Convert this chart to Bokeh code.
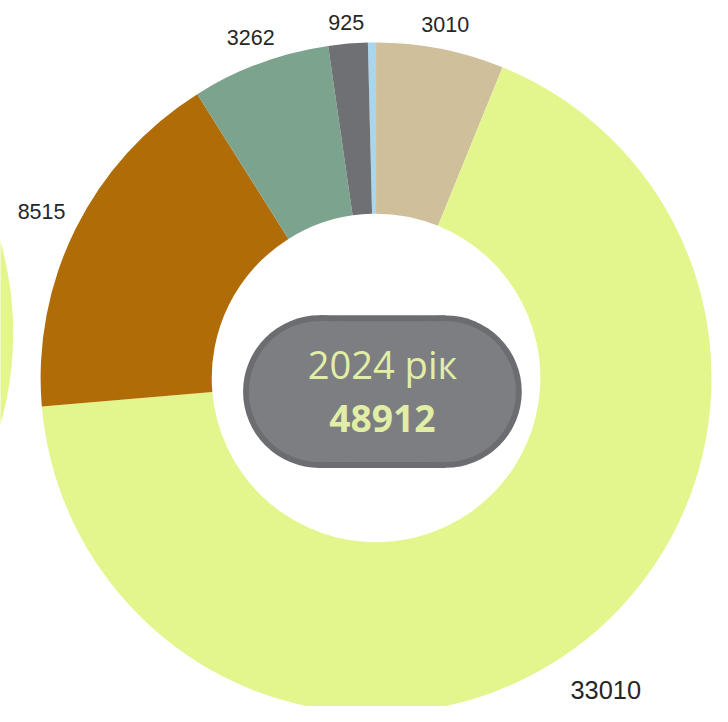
import math
from bokeh.plotting import figure
from bokeh.models import Range1d, ColumnDataSource
from bokeh.embed import file_html
from bokeh.resources import INLINE
from bokeh.core.properties import value

# ---------------- data ----------------
categories = ["Категорія 6", "Категорія 1", "Категорія 2", "Категорія 3", "Категорія 4", "Категорія 5"]
values = [190, 3010, 33010, 8515, 3262, 925]
value_labels = ["", "3010", "33010", "8515", "3262", "925"]
year_label = "2024 рік"
total_label = "48912"

# ---------------- styles ----------------
colors = ["#a9d6ec", "#cfbf9b", "#e3f68e", "#b06d07", "#7ba38d", "#6e7074"]
label_radius = [0, 368, 396, 382, 371, 365]
label_size = [22, 22, 26, 22, 22, 22]

REF_W, REF_H = 728, 722          # reference canvas, in its own pixel units
W, H = 712, 706                  # figure size that fits the page
S = W / REF_W                    # px per unit

cx, cy = 384, REF_H - 386
r_out, r_in = 343, 168
start_deg = 91.4


def fs(px):
    return f"{px * S:.1f}px"


p = figure(width=W, height=H, output_backend="svg", toolbar_location=None,
           x_range=Range1d(0, REF_W), y_range=Range1d(0, REF_H), min_border=0)
p.axis.visible = False
p.grid.visible = False
p.outline_line_color = None
p.background_fill_color = "white"
p.border_fill_color = "white"

# fragment of the neighbouring chart at the left edge
p.annular_wedge(x=[13 - r_out], y=[REF_H - 340], inner_radius=r_in, outer_radius=r_out,
                start_angle=[-0.4], end_angle=[0.4], color="#e3f68e", line_color=None)

total = sum(values)
starts, ends = [], []
lx, ly, lt, ls = [], [], [], []
cum = 0.0
for v, lab, lr, sz in zip(values, value_labels, label_radius, label_size):
    a_hi = math.radians(start_deg) - 2 * math.pi * cum / total
    cum += v
    a_lo = math.radians(start_deg) - 2 * math.pi * cum / total
    starts.append(a_lo)
    ends.append(a_hi)
    if lab:
        mid = (a_lo + a_hi) / 2
        lx.append(cx + lr * math.cos(mid))
        ly.append(cy + lr * math.sin(mid))
        lt.append(lab)
        ls.append(fs(sz))

src = ColumnDataSource(dict(cat=categories, val=values, start=starts, end=ends, color=colors))
p.annular_wedge(x=cx, y=cy, inner_radius=r_in, outer_radius=r_out,
                start_angle="start", end_angle="end", color="color",
                line_color=None, source=src)

lsrc = ColumnDataSource(dict(x=lx, y=ly, text=lt, size=ls))
p.text(x="x", y="y", text="text", text_font_size="size", source=lsrc,
       text_font=value("Liberation Sans"), text_color="#262626",
       text_align="center", text_baseline="middle")

# centre pill
px, py = 390.5, REF_H - 400
pw, ph = 285, 156
bw = 6
for (w, h, c) in [(pw, ph, "#6b6d70"), (pw - 2 * bw, ph - 2 * bw, "#7c7e81")]:
    p.rect(x=[px], y=[py], width=w - h, height=h, color=c, line_color=None)
    p.circle(x=[px - (w - h) / 2, px + (w - h) / 2], y=[py, py], radius=h / 2,
             color=c, line_color=None)

p.text(x=[px], y=[REF_H - 372], text=[year_label], text_font=value("Open Sans"),
       text_font_size=fs(39), text_color="#e2eea6", text_align="center",
       text_baseline="middle")
p.text(x=[px], y=[REF_H - 427], text=[total_label], text_font=value("Open Sans"),
       text_font_size=fs(38), text_font_style="bold", text_color="#e2eea6",
       text_align="center", text_baseline="middle")

open("out.html", "w").write(file_html(p, INLINE))
